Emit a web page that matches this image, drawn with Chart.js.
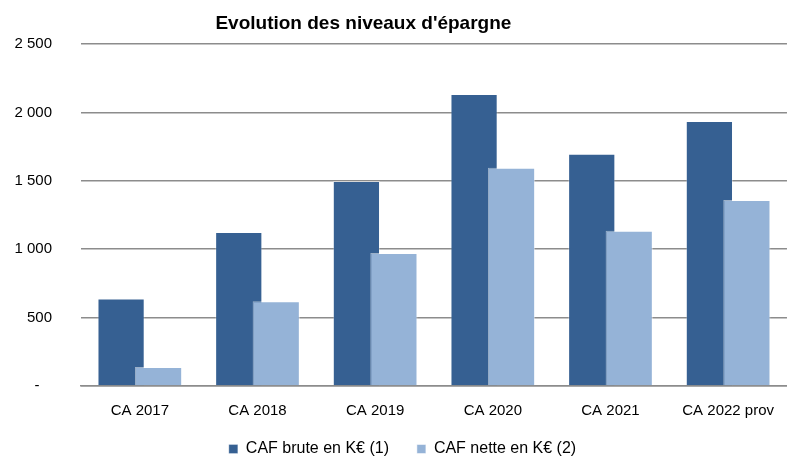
<!DOCTYPE html>
<html>
<head>
<meta charset="utf-8">
<script src="https://cdn.jsdelivr.net/npm/chart.js@4"></script>
<style>
  html, body { margin: 0; padding: 0; background: #fff; }
  #wrap { width: 790px; height: 457px; }
</style>
</head>
<body>
<div id="wrap"><canvas id="chartEpargne" width="790" height="457"></canvas></div>
<script>
// categories et valeurs (K€)
const categories = ['CA 2017', 'CA 2018', 'CA 2019', 'CA 2020', 'CA 2021', 'CA 2022 prov'];
const cafBrute = [640, 1126, 1498, 2135, 1698, 1938];
const cafNette = [138, 620, 972, 1596, 1135, 1359];
const seriesLabels = ['CAF brute en K€ (1)', 'CAF nette en K€ (2)'];
const yTicks = [0, 500, 1000, 1500, 2000, 2500];
const chartTitle = "Evolution des niveaux d'épargne";

const fontFamily = '"Liberation Sans", Arial, sans-serif';

// titre dessiné un peu à gauche du centre, comme dans l'original
const titlePlugin = {
  id: 'titreDecale',
  afterDraw(chart) {
    const ctx = chart.ctx;
    const area = chart.chartArea;
    ctx.save();
    ctx.font = 'bold 19px ' + fontFamily;
    ctx.fillStyle = '#000';
    ctx.textAlign = 'center';
    ctx.textBaseline = 'middle';
    ctx.fillText(chartTitle, area.left + (area.right - area.left) * 0.4, 24);
    ctx.restore();
  }
};

// la série claire doit passer par-dessus la série foncée (chevauchement)
const drawOrderPlugin = {
  id: 'ordreDessin',
  beforeDatasetsDraw(chart) {
    chart.getSortedVisibleDatasetMetas().forEach(meta => meta.controller.draw());
    return false;
  }
};

function formatK(v) {
  if (v === 0) return '-   '; // format comptable : tiret décalé
  return String(v).replace(/\B(?=(\d{3})+(?!\d))/g, ' ');
}

const ctx = document.getElementById('chartEpargne').getContext('2d');
new Chart(ctx, {
  type: 'bar',
  data: {
    labels: categories,
    datasets: [
      {
        label: seriesLabels[0],
        data: cafBrute,
        backgroundColor: '#366092',
        borderColor: 'rgba(255,255,255,0.3)',
        borderWidth: 1,
        categoryPercentage: 0.637,
        barPercentage: 1.26
      },
      {
        label: seriesLabels[1],
        data: cafNette,
        backgroundColor: '#95b3d7',
        borderColor: 'rgba(255,255,255,0.5)',
        borderWidth: 1,
        categoryPercentage: 0.637,
        barPercentage: 1.26
      }
    ]
  },
  options: {
    responsive: false,
    animation: false,
    layout: { padding: { top: 44, left: 12, right: -3, bottom: -10 } },
    scales: {
      x: {
        grid: { display: false, drawTicks: false },
        border: { display: true, color: '#8c8c8c', width: 1.5 },
        ticks: { color: '#000', font: { family: fontFamily, size: 15 }, padding: 16 },
        afterFit: axis => { axis.height = 36; }
      },
      y: {
        min: 0,
        max: 2500,
        afterBuildTicks: axis => { axis.ticks = yTicks.map(v => ({ value: v })); },
        afterFit: axis => { axis.width = 69; },
        grid: { color: '#8c8c8c', lineWidth: 1.5, drawTicks: false },
        border: { display: false },
        ticks: {
          color: '#000',
          font: { family: fontFamily, size: 15 },
          padding: 29,
          callback: v => formatK(v)
        }
      }
    },
    plugins: {
      title: { display: false },
      tooltip: { enabled: false },
      legend: {
        position: 'bottom',
        labels: {
          color: '#000',
          font: { family: fontFamily, size: 16 },
          boxWidth: 9,
          boxHeight: 9,
          padding: 19,
          // espace plus large entre les deux entrées de légende
          generateLabels: chart => Chart.defaults.plugins.legend.labels.generateLabels(chart)
            .map((item, i) => i === 0 ? { ...item, text: item.text + '  ' } : item)
        }
      }
    }
  },
  plugins: [titlePlugin, drawOrderPlugin]
});
</script>
</body>
</html>
